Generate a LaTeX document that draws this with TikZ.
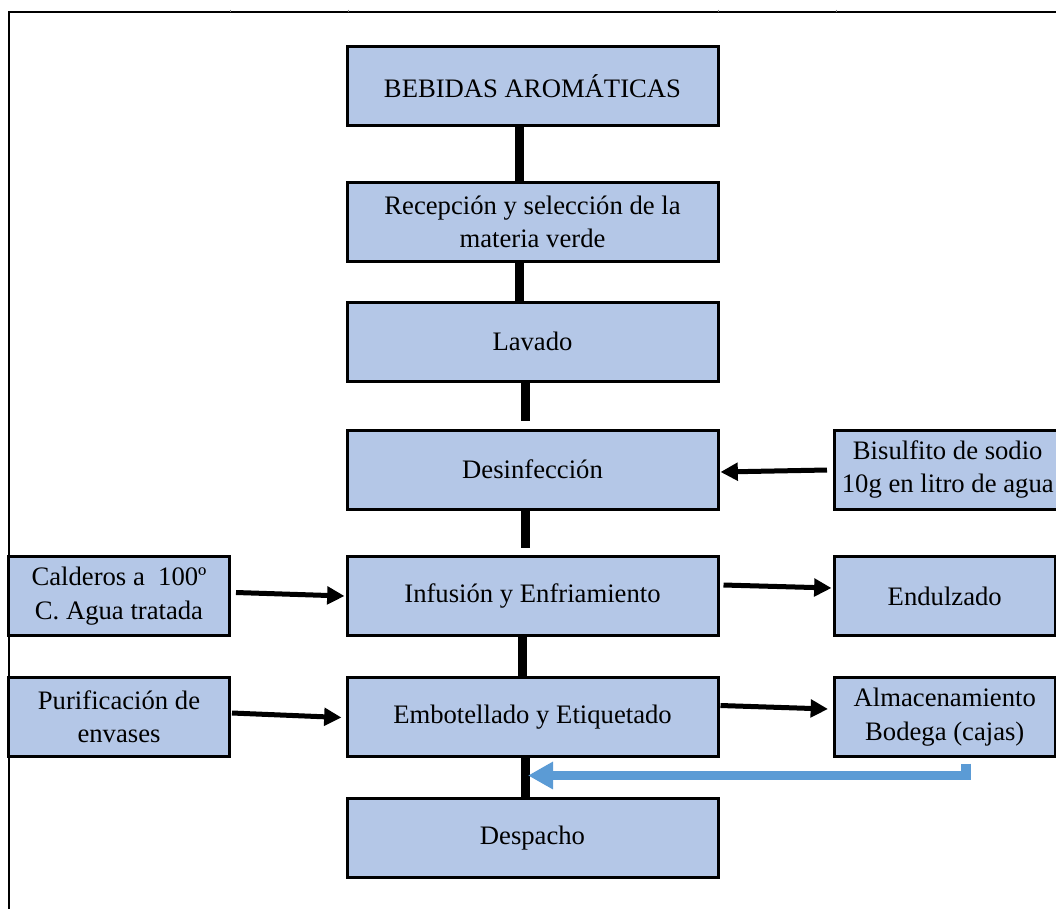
\documentclass[tikz,border=0pt]{standalone}
\usepackage{fontspec}
\setmainfont{Liberation Serif}
\usetikzlibrary{arrows.meta,calc}
\definecolor{boxblue}{RGB}{180,199,231}
\definecolor{arrowblue}{RGB}{91,155,213}
\tikzset{
  basebox/.style={draw=black, line width=2.25pt, fill=boxblue, align=center, inner sep=0pt,
    minimum height=59.25pt, font=\fontsize{20}{25}\selectfont},
  cbox/.style={basebox, minimum width=278.25pt},
  lbox/.style={basebox, minimum width=165.75pt},
  rbox/.style={basebox, minimum width=165.4pt},
  wbox/.style={basebox, minimum width=169.9pt},
  vconn/.style={draw=black, line width=6.75pt},
  harrow/.style={draw=black, line width=3.75pt, -{Triangle[length=13pt,width=13pt]}},
  barrow/.style={draw=arrowblue, line width=7pt, line join=miter, -{Triangle[length=18.75pt,width=19.5pt]}},
  frame/.style={draw=black, line width=1.5pt},
  tick/.style={draw=gray, line width=0.75pt}
}
\begin{document}
\begin{tikzpicture}[x=0.75pt,y=-0.75pt]
\useasboundingbox (0,0) rectangle (1056,908);
% frame
\draw[frame] (8,12) -- (1062,12);
\draw[frame] (9,12) -- (9,912);
\foreach \tx in {230,348,718,836} { \draw[tick] (\tx,9.5) -- (\tx,12); }
% center column
\node[cbox] (bebidas) at (532.5,86) {BEBIDAS AROMÁTICAS};
\node[cbox] (recep) at (532.5,222) {Recepción y selección de la\\materia verde};
\node[cbox] (lavado) at (532.5,341.5) {Lavado};
\node[cbox] (desinf) at (532.5,469.5) {Desinfección};
\node[cbox] (infus) at (532.5,596) {Infusión y Enfriamiento};
\node[cbox] (embot) at (532.5,717) {Embotellado y Etiquetado};
\node[cbox] (despacho) at (532.5,838) {Despacho};
% left column
\node[lbox] (calderos) at (119,596) {Calderos a\ \ 100º\\C. Agua tratada};
\node[lbox] (purif) at (119,717) {Purificación de\\envases};
% right column
\node[wbox] (bisul) at (947.75,469.5) {Bisulfito de sodio\\10g en litro de agua};
\node[rbox] (endulz) at (944.75,596) {Endulzado};
\node[rbox] (almac) at (944.75,717) {Almacenamiento\\Bodega (cajas)};
% vertical connectors
\draw[vconn] ($(bebidas.south)+(-13,0)$) -- ($(recep.north)+(-13,0)$);
\draw[vconn] ($(recep.south)+(-13.5,0)$) -- ($(lavado.north)+(-13.5,0)$);
\draw[vconn, shorten >=5.6pt] ($(lavado.south)+(-7,0)$) -- ($(desinf.north)+(-7,0)$);
\draw[vconn, shorten >=5.6pt] ($(desinf.south)+(-7,0)$) -- ($(infus.north)+(-7,0)$);
\draw[vconn] ($(infus.south)+(-10,0)$) -- ($(embot.north)+(-10,0)$);
\draw[vconn] ($(embot.south)+(-7,0)$) -- ($(despacho.north)+(-7,2)$);
% horizontal arrows
\draw[harrow] ($(bisul.west)+(-6,0.5)$) -- ($(desinf.east)+(1,2.5)$);
\draw[harrow] ($(calderos.east)+(5,-3.5)$) -- ($(infus.west)+(-1,0)$);
\draw[harrow] ($(purif.east)+(1,-4)$) -- ($(embot.west)+(-4,0.5)$);
\draw[harrow] ($(infus.east)+(4,-11)$) -- ($(endulz.west)+(-1.5,-8)$);
\draw[harrow] ($(embot.east)+(1,-11.5)$) -- ($(almac.west)+(-5,-8)$);
% blue return arrow
\coordinate (btip) at ($(despacho.north)+(-4.5,-21.5)$);
\draw[barrow] ($(almac.south)+(21.25,5.5)$) |- (btip);
\end{tikzpicture}
\end{document}
